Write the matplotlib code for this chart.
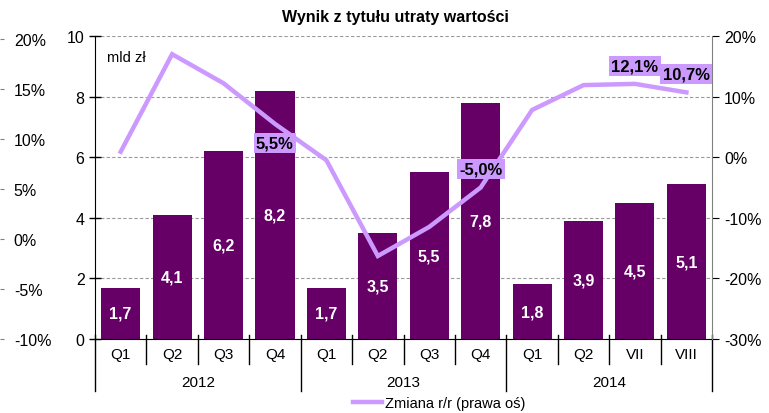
import matplotlib.pyplot as plt
import matplotlib.transforms as mtransforms
from matplotlib.lines import Line2D
import numpy as np

plt.rcParams['font.family'] = ['Liberation Sans', 'DejaVu Sans']

categories = ["Q1", "Q2", "Q3", "Q4", "Q1", "Q2", "Q3", "Q4", "Q1", "Q2", "VII", "VIII"]
years = ["2012", "2013", "2014"]
year_sizes = [4, 4, 4]
bars = [1.7, 4.1, 6.2, 8.2, 1.7, 3.5, 5.5, 7.8, 1.8, 3.9, 4.5, 5.1]
change = [0.9, 17.0, 12.2, 5.5, -0.5, -16.3, -11.5, -5.0, 7.8, 11.9, 12.1, 10.7]
labelled = {3: "5,5%", 7: "-5,0%", 10: "12,1%", 11: "10,7%"}

bar_color = "#660066"
line_color = "#CC99FF"

fig = plt.figure(figsize=(7.69, 4.14), dpi=100)
ax = fig.add_axes([0.1235, 0.1787, 0.8025, 0.7319])
x = np.arange(len(categories))

ax.bar(x, bars, width=0.76, color=bar_color, zorder=2)
for xi, v in zip(x, bars):
    ax.text(xi, v / 2, f"{v:.1f}".replace(".", ","), ha="center", va="center",
            color="white", fontsize=11.5, fontweight="bold", zorder=3)

ax.set_xlim(-0.5, len(categories) - 0.5)
ax.set_ylim(0, 10)
ax.set_yticks(range(0, 11, 2))
ax.yaxis.grid(True, linestyle=(0, (3, 2)), color="#999999", linewidth=0.8)
ax.set_axisbelow(True)
ax.set_xticks([])
ax.tick_params(axis="y", labelsize=11.5, direction="inout", length=8, width=1)
ax.spines["top"].set_visible(False)
ax.spines["right"].set_visible(False)
ax.spines["left"].set_bounds(0, 10)
ax.text(0.02, 0.955, "mld zł", transform=ax.transAxes, fontsize=10.5, va="top")

# category separators and labels
trans = mtransforms.blended_transform_factory(ax.transData, ax.transAxes)
bounds = np.cumsum([0] + year_sizes) - 0.5
for b in np.arange(-0.5, len(categories)):
    long = np.any(np.isclose(bounds, b))
    ax.plot([b, b], [0.012, -0.172 if long else -0.083], transform=trans,
            color="black", linewidth=1, clip_on=False, zorder=5)
for xi, c in zip(x, categories):
    ax.text(xi, -0.05, c, transform=trans, ha="center", va="center", fontsize=11)
for i, yr in enumerate(years):
    ax.text((bounds[i] + bounds[i + 1]) / 2, -0.143, yr, transform=trans,
            ha="center", va="center", fontsize=11)

# right axis: change y/y
ax2 = ax.twinx()
ax2.plot(x, change, color=line_color, linewidth=3.2, zorder=4, solid_joinstyle="miter")
ax2.set_ylim(-30, 20)
ax2.set_yticks(range(-30, 21, 10))
ax2.set_yticklabels([f"{t}%" for t in range(-30, 21, 10)])
ax2.tick_params(axis="y", labelsize=11.5, direction="out", length=5, colors="black")
ax2.spines["right"].set_color("#808080")
ax2.spines["right"].set_bounds(-30, 20)
for s in ["top", "left", "bottom"]:
    ax2.spines[s].set_visible(False)
for i, txt in labelled.items():
    off = -3.2 if i == 3 else 3.0
    ax2.text(x[i], change[i] + off, txt, ha="center", va="center", fontsize=12,
             fontweight="bold", color="black", zorder=6,
             bbox=dict(boxstyle="square,pad=0.15", facecolor=line_color, edgecolor="none"))

# far left percentage axis (spine sits at the image edge, labels to its right)
ax3 = ax.twinx()
ax3.spines["right"].set_position(("axes", -0.154))
for s in ["top", "right", "left", "bottom"]:
    ax3.spines[s].set_visible(False)
ax3.set_ylim(-10, 20.3)
ax3.set_yticks(range(-10, 21, 5))
ax3.set_yticklabels([f"{t}%" for t in range(-10, 21, 5)])
ax3.tick_params(axis="y", labelsize=11.5, direction="out", length=3,
                color="#808080", labelcolor="black", pad=7)

fig.suptitle("Wynik z tytułu utraty wartości", x=0.514, y=0.975, fontsize=11.5, fontweight="bold")

handle = Line2D([], [], color=line_color, linewidth=3.2)
fig.legend([handle], ["Zmiana r/r (prawa oś)"], loc="lower center",
           bbox_to_anchor=(0.571, -0.025), frameon=False, fontsize=10.5,
           handlelength=2.0, handletextpad=0.15)

fig.savefig("out.png", dpi=100)
